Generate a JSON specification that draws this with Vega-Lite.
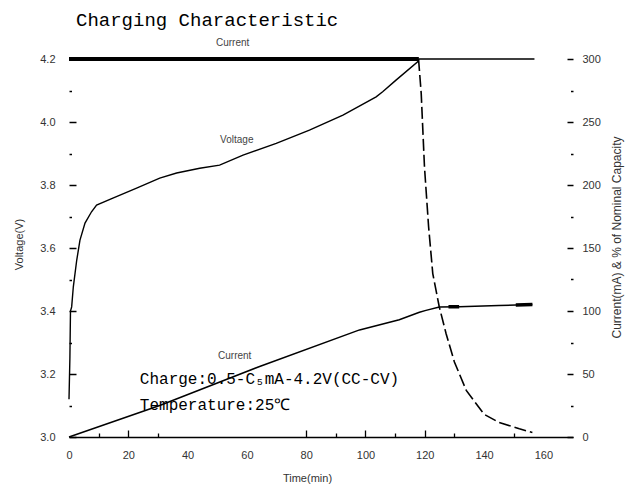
{
  "$schema": "https://vega.github.io/schema/vega-lite/v6.json",
  "width": 504,
  "height": 378,
  "autosize": {"type": "none"},
  "padding": {"left": 69, "top": 59, "right": 64, "bottom": 60},
  "background": "white",
  "config": {
    "view": {"stroke": null},
    "axis": {
      "grid": false,
      "labelFont": "Liberation Sans",
      "titleFont": "Liberation Sans",
      "labelColor": "#333",
      "titleColor": "#333",
      "titleFontWeight": "normal",
      "tickColor": "black",
      "tickWidth": 1.3,
      "labelFontSize": 11,
      "titleFontSize": 11
    }
  },
  "title": {
    "text": "Charging Characteristic",
    "font": "Liberation Mono",
    "fontSize": 19,
    "fontWeight": "normal",
    "color": "black",
    "anchor": "start",
    "frame": "group",
    "baseline": "alphabetic",
    "offset": -7,
    "dx": 7
  },
  "datasets": {
    "voltage": [
      {"t": 0, "v": 3.12}, {"t": 0.3, "v": 3.25}, {"t": 0.5, "v": 3.4}, {"t": 0.9, "v": 3.413},
      {"t": 1.45, "v": 3.476}, {"t": 2.6, "v": 3.561}, {"t": 3.7, "v": 3.625}, {"t": 5.4, "v": 3.679},
      {"t": 7.6, "v": 3.715}, {"t": 9.3, "v": 3.736}, {"t": 14.8, "v": 3.758}, {"t": 22.8, "v": 3.79},
      {"t": 30.6, "v": 3.822}, {"t": 36.3, "v": 3.838}, {"t": 44.1, "v": 3.853}, {"t": 50.8, "v": 3.863},
      {"t": 58.7, "v": 3.895}, {"t": 69.9, "v": 3.932}, {"t": 81.1, "v": 3.974}, {"t": 92.4, "v": 4.022},
      {"t": 103.6, "v": 4.08}, {"t": 105.8, "v": 4.096}, {"t": 110.3, "v": 4.133}, {"t": 117.6, "v": 4.191},
      {"t": 118, "v": 4.2}, {"t": 157, "v": 4.2}
    ],
    "cc": [{"t": 0, "c": 300}, {"t": 118, "c": 300}],
    "cv": [
      {"t": 117.9, "c": 300}, {"t": 118.8, "c": 272.7}, {"t": 119.9, "c": 214.4}, {"t": 121.3, "c": 166.7},
      {"t": 122.7, "c": 129.7}, {"t": 124.9, "c": 103.2}, {"t": 127.2, "c": 82}, {"t": 130, "c": 59.5},
      {"t": 134, "c": 37}, {"t": 140, "c": 18}, {"t": 145.1, "c": 11.5}, {"t": 151.9, "c": 6.5},
      {"t": 156.3, "c": 3.6}
    ],
    "cap": [
      {"t": 0, "c": 0}, {"t": 30.6, "c": 25}, {"t": 64.3, "c": 56}, {"t": 98, "c": 85},
      {"t": 111.4, "c": 93}, {"t": 118.2, "c": 99}, {"t": 120.4, "c": 100.5}, {"t": 124.9, "c": 103.2},
      {"t": 131.6, "c": 103.4}, {"t": 145, "c": 104.3}, {"t": 156.3, "c": 105.1}
    ],
    "capbold": [
      {"seg": "a", "t": 128, "c": 103.3}, {"seg": "a", "t": 131.6, "c": 103.4},
      {"seg": "b", "t": 150.7, "c": 104.8}, {"seg": "b", "t": 156.3, "c": 105.1}
    ],
    "notes": [
      {"t": 55.2, "v": 4.251, "text": "Current"},
      {"t": 56.6, "v": 3.943, "text": "Voltage"},
      {"t": 55.9, "v": 3.257, "text": "Current"}
    ],
    "notes2": [
      {"t": 23.9, "v": 3.184, "text": "Charge:0.5-C₅mA-4.2V(CC-CV)"},
      {"t": 23.9, "v": 3.102, "text": "Temperature:25℃"}
    ]
  },
  "encoding": {
    "x": {
      "field": "t",
      "type": "quantitative",
      "scale": {"domain": [0, 170], "nice": false, "zero": false},
      "axis": {
        "values": [0, 10, 20, 30, 40, 50, 60, 70, 80, 90, 100, 110, 120, 130, 140, 150, 160],
        "labelExpr": "datum.value % 20 === 0 ? datum.label : ''",
        "tickSize": {"condition": {"test": "datum.value % 20 === 0", "value": -7}, "value": -4},
        "tickOpacity": {"condition": {"test": "indexof([10,20,30,80,90,100,110,120,130,150], datum.value) >= 0", "value": 1}, "value": 0},
        "labelPadding": 19,
        "labelFlush": false,
        "labelOverlap": false,
        "domainColor": "black",
        "domainWidth": 1.5,
        "title": "Time(min)",
        "titleX": 238,
        "titleY": 41,
        "titleBaseline": "middle",
        "titleAlign": "center"
      }
    }
  },
  "layer": [
    {
      "encoding": {
        "y": {
          "field": "v",
          "type": "quantitative",
          "scale": {"domain": [3, 4.2], "nice": false, "zero": false},
          "axis": {
            "orient": "left",
            "values": [3, 3.1, 3.2, 3.3, 3.4, 3.5, 3.6, 3.7, 3.8, 3.9, 4, 4.1, 4.2],
            "labelExpr": "round(datum.value * 10) % 2 === 0 ? format(datum.value, '.1f') : ''",
            "tickSize": {"condition": {"test": "round(datum.value * 10) % 2 === 0", "value": -7}, "value": -2.5},
            "tickWidth": 1.5,
            "labelPadding": 21,
            "labelFlush": false,
            "labelOverlap": false,
            "domain": false,
            "title": "Voltage(V)",
            "titleX": -50,
            "titleY": 185,
            "titleAngle": 270,
            "titleAlign": "center",
            "titleBaseline": "middle"
          }
        }
      },
      "layer": [
        {"data": {"name": "voltage"}, "mark": {"type": "line", "color": "black", "strokeWidth": 1.4}},
        {
          "data": {"name": "notes"},
          "mark": {"type": "text", "font": "Liberation Sans", "fontSize": 10, "color": "#444", "align": "center", "baseline": "middle"},
          "encoding": {"text": {"field": "text", "type": "nominal"}}
        },
        {
          "data": {"name": "notes2"},
          "mark": {"type": "text", "font": "Liberation Mono", "fontSize": 16, "color": "black", "align": "left", "baseline": "middle"},
          "encoding": {"text": {"field": "text", "type": "nominal"}}
        }
      ]
    },
    {
      "encoding": {
        "y": {
          "field": "c",
          "type": "quantitative",
          "scale": {"domain": [0, 300], "nice": false, "zero": false},
          "axis": {
            "orient": "right",
            "values": [0, 25, 50, 75, 100, 125, 150, 175, 200, 225, 250, 275, 300],
            "labelExpr": "datum.value % 50 === 0 ? datum.label : ''",
            "tickSize": {"condition": {"test": "datum.value % 50 === 0", "value": -6}, "value": -2.5},
            "tickWidth": 1.5,
            "labelPadding": 15,
            "labelFlush": false,
            "labelOverlap": false,
            "domain": false,
            "title": "Current(mA) & % of Nominal Capacity",
            "titleX": 43,
            "titleY": 178,
            "titleAngle": 270,
            "titleAlign": "center",
            "titleBaseline": "middle",
            "titleFontSize": 12
          }
        }
      },
      "layer": [
        {"data": {"name": "cc"}, "mark": {"type": "line", "color": "black", "strokeWidth": 4}},
        {"data": {"name": "cv"}, "mark": {"type": "line", "color": "black", "strokeWidth": 1.6, "strokeDash": [12, 4]}},
        {"data": {"name": "cap"}, "mark": {"type": "line", "color": "black", "strokeWidth": 1.5}},
        {"data": {"name": "capbold"}, "mark": {"type": "line", "color": "black", "strokeWidth": 3.5}, "encoding": {"detail": {"field": "seg", "type": "nominal"}}}
      ]
    }
  ],
  "resolve": {"scale": {"y": "independent"}, "axis": {"y": "independent"}}
}
